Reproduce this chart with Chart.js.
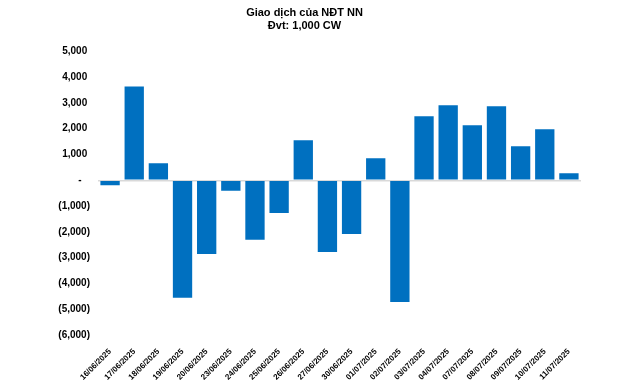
<!DOCTYPE html>
<html>
<head>
<meta charset="utf-8">
<script src="https://cdn.jsdelivr.net/npm/chart.js@4/dist/chart.umd.min.js"></script>
<style>
    html, body { margin: 0; padding: 0; background: #ffffff; }
    #wrap { width: 640px; height: 388px; }
</style>
</head>
<body>
<div id="wrap"><canvas id="chart-foreign"></canvas></div>
<script>
const titleLines = ['Giao dịch của NĐT NN', 'Đvt: 1,000 CW']

const dates = [
    '16/06/2025', '17/06/2025', '18/06/2025', '19/06/2025', '20/06/2025',
    '23/06/2025', '24/06/2025', '25/06/2025', '26/06/2025', '27/06/2025',
    '30/06/2025', '01/07/2025', '02/07/2025', '03/07/2025', '04/07/2025',
    '07/07/2025', '08/07/2025', '09/07/2025', '10/07/2025', '11/07/2025'
]

const netValues = [
    -190, 3640, 660, -4560, -2860,
    -410, -2310, -1270, 1550, -2780,
    -2080, 850, -4720, 2480, 2910,
    2130, 2870, 1320, 1980, 270
]

const yMin = -6000
const yMax = 5000
const yStep = 1000

const fmt = (v) => Math.abs(v).toLocaleString('en-US')

const chartForeign = document.getElementById('chart-foreign')

if (chartForeign) {

    const chartContext = chartForeign.getContext('2d')

    new Chart(chartContext, {

        type: 'bar',
        data: {
            labels: dates,
            datasets: [{
                data: netValues,
                backgroundColor: '#0070C0',
                borderWidth: 0,
                barPercentage: 0.8,
                categoryPercentage: 1
            }]
        },
        options: {
            responsive: true,
            maintainAspectRatio: false,
            animation: false,
            layout: {
                padding: { left: 28, right: 59, top: 0, bottom: 0 }
            },
            plugins: {
                legend: { display: false },
                tooltip: { enabled: false },
                title: {
                    display: true,
                    text: titleLines,
                    color: '#000000',
                    font: { family: '"Liberation Sans", Arial, sans-serif', size: 11, weight: 'bold', lineHeight: 1.15 },
                    padding: { top: 7, bottom: 19 }
                }
            },
            scales: {
                x: {
                    grid: { display: false },
                    border: { display: false },
                    ticks: {
                        color: '#000000',
                        font: { family: '"Liberation Sans", Arial, sans-serif', size: 8, weight: 'bold' },
                        maxRotation: 45,
                        minRotation: 45,
                        autoSkip: false,
                        padding: 4
                    },
                    afterFit: (scale) => { scale.height = 53 }
                },
                y: {
                    min: yMin,
                    max: yMax,
                    border: { display: false },
                    grid: {
                        drawTicks: false,
                        color: (ctx) => ctx.tick && ctx.tick.value === 0 ? '#d9d9d9' : 'rgba(0,0,0,0)',
                        lineWidth: 1.5
                    },
                    ticks: {
                        stepSize: yStep,
                        color: '#000000',
                        padding: 8,
                        font: { family: '"Liberation Sans", Arial, sans-serif', size: 10, weight: 'bold' },
                        callback: function(value) {
                            if (value === 0) return '-   '
                            if (value < 0) return '(' + fmt(value) + ')'
                            return fmt(value) + ' '
                        }
                    },
                    afterFit: (scale) => { scale.width = 70 }
                }
            }
        }

    })

}
</script>
</body>
</html>
